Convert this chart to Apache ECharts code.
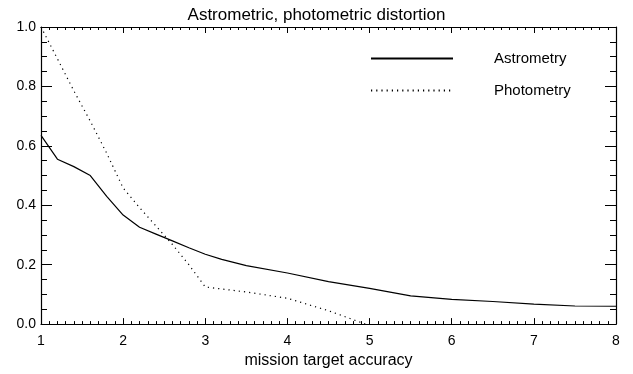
<!DOCTYPE html>
<html>
<head>
<meta charset="utf-8">
<script src="https://cdn.jsdelivr.net/npm/echarts@6/dist/echarts.min.js"></script>
<style>html,body{margin:0;padding:0;background:#fff}#c{width:633px;height:374px}</style>
</head>
<body>
<div id="c"></div>
<script>
var titleText = "Astrometric, photometric distortion";
var xName = "mission target accuracy";
var seriesNames = ["Astrometry", "Photometry"];
var astroX = [1.0,1.2,1.4,1.6,1.8,2.0,2.2,2.4,2.6,2.8,3.0,3.2,3.5,4.0,4.5,5.0,5.5,6.0,6.5,7.0,7.5,8.0];
var astroY = [0.635,0.555,0.53,0.50,0.43,0.367,0.326,0.303,0.28,0.257,0.235,0.218,0.197,0.172,0.143,0.12,0.095,0.083,0.076,0.067,0.061,0.06];
var photoX = [1.0,1.2,1.4,1.6,1.8,2.0,2.2,2.4,2.6,2.8,3.0,3.5,4.0,4.5,4.95];
var photoY = [1.0,0.893,0.785,0.683,0.575,0.458,0.392,0.33,0.268,0.2,0.125,0.108,0.087,0.045,0.0];
var xMin = 1, xMax = 8, xStep = 1;
var yMin = 0, yMax = 1, yStep = 0.2;

function pairs(xs, ys){ return xs.map(function(x,i){ return [x, ys[i]]; }); }
var font = "Liberation Sans";
var chart = echarts.init(document.getElementById('c'), null, {renderer:'canvas'});
function xAx(pos, labels){
  return {
    type:'value', position:pos, min:xMin, max:xMax, interval:xStep,
    name: labels ? xName : '', nameLocation:'middle', nameGap:26,
    nameTextStyle:{color:'#000', fontFamily:font, fontSize:16},
    axisLine:{show:true, onZero:false, lineStyle:{color:'#000', width:1.2}},
    axisTick:{show:true, inside:true, length:6, lineStyle:{color:'#000', width:1}},
    minorTick:{show:true, splitNumber:10, length:3, lineStyle:{color:'#000', width:1}},
    axisLabel:{show:labels, color:'#000', fontFamily:font, fontSize:14, margin:10},
    splitLine:{show:false}
  };
}
function yAx(pos, labels){
  return {
    type:'value', position:pos, min:yMin, max:yMax, interval:yStep,
    axisLine:{show:true, onZero:false, lineStyle:{color:'#000', width:1.2}},
    axisTick:{show:true, inside:true, length:11, lineStyle:{color:'#000', width:1}},
    minorTick:{show:true, splitNumber:4, length:6, lineStyle:{color:'#000', width:1}},
    axisLabel:{show:labels, color:'#000', fontFamily:font, fontSize:14, margin:5,
      formatter:function(v){ return v.toFixed(1); }},
    splitLine:{show:false}
  };
}
chart.setOption({
  animation:false,
  backgroundColor:'#fff',
  title:{text:titleText, left:'center', top:2,
    textStyle:{color:'#000', fontFamily:font, fontSize:17, fontWeight:'normal'}},
  grid:{left:41, right:17, top:27, bottom:43, containLabel:false},
  legend:{orient:'vertical', left:365, top:46, itemWidth:82, itemHeight:14, itemGap:17,
    data:seriesNames,
    itemStyle:{color:'rgba(0,0,0,0)', borderWidth:0, opacity:0},
    textStyle:{color:'#000', fontFamily:font, fontSize:15, padding:[0,0,0,36]}},
  xAxis:[xAx('bottom', true), xAx('top', false)],
  yAxis:[yAx('left', true), yAx('right', false)],
  series:[
    {name:seriesNames[0], type:'line', xAxisIndex:0, yAxisIndex:0, symbol:'none',
     data:pairs(astroX, astroY), lineStyle:{color:'#000', width:1.2, type:'solid'}, itemStyle:{color:'#000'}},
    {name:seriesNames[1], type:'line', xAxisIndex:0, yAxisIndex:0, symbol:'none',
     data:pairs(photoX, photoY), lineStyle:{color:'#000', width:1.2, type:[1.2,4]}, itemStyle:{color:'#000'}}
  ]
});
</script>
</body>
</html>
